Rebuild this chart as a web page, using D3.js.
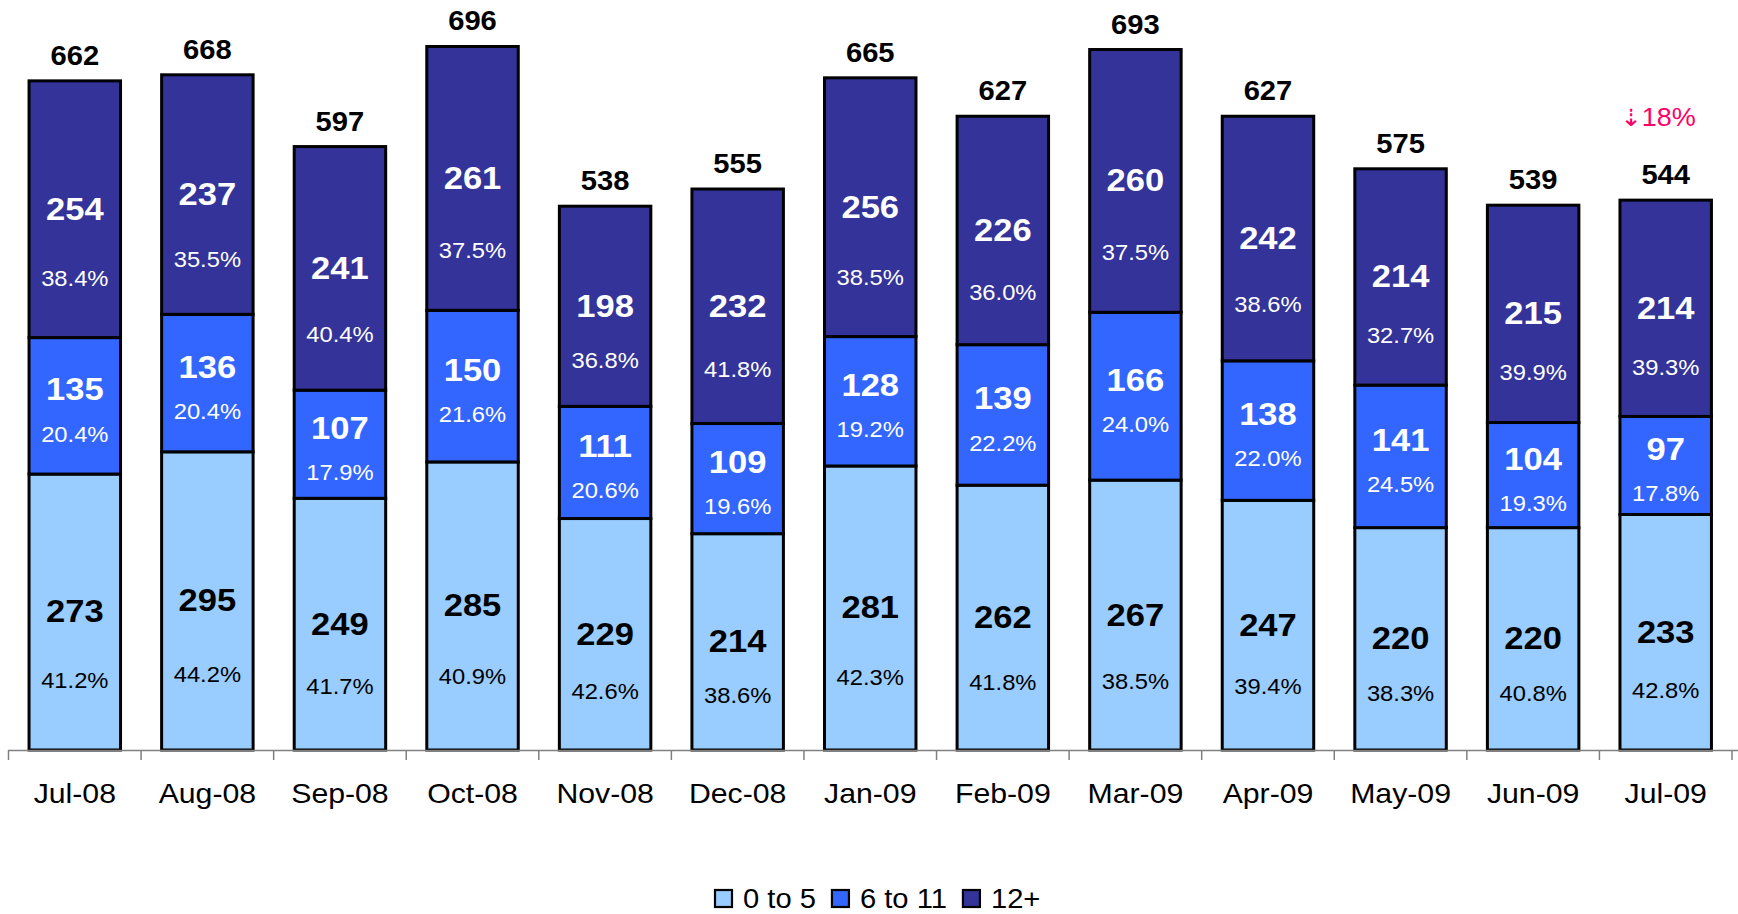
<!DOCTYPE html>
<html>
<head>
<meta charset="utf-8">
<script src="https://cdn.jsdelivr.net/npm/d3@7/dist/d3.min.js"></script>
<style>
  html, body { margin: 0; padding: 0; background: #fff; }
  svg { display: block; font-family: "Liberation Sans", Arial, sans-serif; }
</style>
</head>
<body>
<svg id="chart" width="1738" height="914"></svg>
<script>
// ---- data ----
const months = ["Jul-08","Aug-08","Sep-08","Oct-08","Nov-08","Dec-08","Jan-09","Feb-09","Mar-09","Apr-09","May-09","Jun-09","Jul-09"];
const seriesNames = ["0 to 5","6 to 11","12+"];
const age0to5  = [273,295,249,285,229,214,281,262,267,247,220,220,233];
const age6to11 = [135,136,107,150,111,109,128,139,166,138,141,104,97];
const age12plus= [254,237,241,261,198,232,256,226,260,242,214,215,214];
const pct0to5  = ["41.2%","44.2%","41.7%","40.9%","42.6%","38.6%","42.3%","41.8%","38.5%","39.4%","38.3%","40.8%","42.8%"];
const pct6to11 = ["20.4%","20.4%","17.9%","21.6%","20.6%","19.6%","19.2%","22.2%","24.0%","22.0%","24.5%","19.3%","17.8%"];
const pct12plus= ["38.4%","35.5%","40.4%","37.5%","36.8%","41.8%","38.5%","36.0%","37.5%","38.6%","32.7%","39.9%","39.3%"];
const totals   = [662,668,597,696,538,555,665,627,693,627,575,539,544];
const changeNote = "18%";

// ---- layout ----
const colors = ["#99CCFF","#3366FF","#333399"];
const svg = d3.select("#chart");
const x = d3.scaleBand().domain(months).range([8.5, 1732]).paddingInner(0.31).paddingOuter(0.155);
const y = d3.scaleLinear().domain([0, 742]).range([750, 0]);

const table = months.map((m, i) => ({month: m, s0: age0to5[i], s1: age6to11[i], s2: age12plus[i],
  p: [pct0to5[i], pct6to11[i], pct12plus[i]], total: totals[i]}));
const stack = d3.stack().keys(["s0","s1","s2"])(table);

// stretched text helper (reference glyphs are a bit wide)
const SX = 1.08;
function stext(sel, cx, baseY, size, weight, fill, str, anchor) {
  return sel.append("text")
    .attr("transform", `translate(${cx},${baseY}) scale(${SX},1)`)
    .attr("text-anchor", anchor || "middle")
    .attr("font-size", size).attr("font-weight", weight || "normal")
    .attr("fill", fill).text(str);
}

// bars
const g = svg.append("g");
stack.forEach((layer, si) => {
  g.selectAll(null).data(layer).enter().append("rect")
    .attr("x", d => x(d.data.month))
    .attr("y", d => y(d[1]))
    .attr("width", x.bandwidth())
    .attr("height", d => y(d[0]) - y(d[1]))
    .attr("fill", colors[si])
    .attr("stroke", "#000")
    .attr("stroke-width", 3);
});

// segment labels
const txtCol = ["#000","#fff","#fff"];
stack.forEach((layer, si) => {
  layer.forEach(d => {
    const top = y(d[1]), bot = y(d[0]), h = bot - top, c = (top + bot) / 2;
    let ny, py;
    if (si === 1) { ny = c - 17; py = c + 28; }
    else { ny = c - 1; py = c + (si === 0 ? 0.245 : 0.27) * h; }
    const cx = x(d.data.month) + x.bandwidth() / 2;
    stext(svg, cx, ny + 0.358 * 32, 32, "bold", txtCol[si], d[1] - d[0]);
    stext(svg, cx, py + 0.358 * 22, 22, "normal", txtCol[si], d.data.p[si]);
  });
});

// totals
table.forEach(d => {
  stext(svg, x(d.month) + x.bandwidth() / 2, y(d.total) - 16, 27, "bold", "#000", d.total);
});

// axis
svg.append("line").attr("x1", 8).attr("x2", 1738).attr("y1", 750.5).attr("y2", 750.5)
  .attr("stroke", "#808080").attr("stroke-width", 1.5);
const tickXs = d3.range(months.length + 1).map(i => 8.5 + i * (1732 - 8.5) / months.length);
svg.selectAll(".tk").data(tickXs).enter().append("line")
  .attr("x1", d => d).attr("x2", d => d).attr("y1", 750).attr("y2", 760)
  .attr("stroke", "#808080").attr("stroke-width", 1.5);
months.forEach(m => {
  stext(svg, x(m) + x.bandwidth() / 2, 793 + 0.358 * 28, 28, "normal", "#000", m);
});

// change annotation
const ann = svg.append("text")
  .attr("transform", `translate(1658,${117 + 0.358 * 25}) scale(${SX},1)`)
  .attr("text-anchor", "middle").attr("fill", "#FF0066").attr("font-size", 25);
ann.append("tspan").attr("font-family", "DejaVu Sans").attr("font-size", 24).text("⇣");
ann.append("tspan").text(changeNote);

// legend
const leg = svg.append("g");
let lx = 715;
seriesNames.forEach((name, i) => {
  leg.append("rect").attr("x", lx).attr("y", 890).attr("width", 17).attr("height", 17)
    .attr("fill", colors[i]).attr("stroke", "#000").attr("stroke-width", 2.2);
  const t = stext(leg, lx + 28, 898 + 0.358 * 27, 27, "normal", "#000", name, "start");
  lx += 28 + t.node().getComputedTextLength() * SX + 16;
});
</script>
</body>
</html>
